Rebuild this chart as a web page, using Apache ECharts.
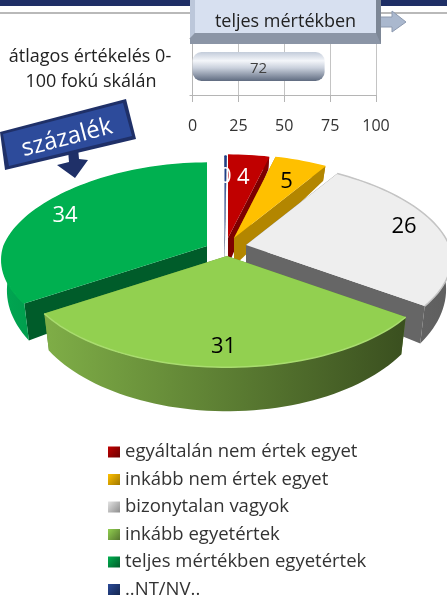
<!DOCTYPE html>
<html>
<head>
<meta charset="utf-8">
<style>
  html, body { margin: 0; padding: 0; background: #fff; }
  #chart { width: 447px; height: 600px; }
</style>
</head>
<body>
<div id="chart"></div>
<script src="https://cdn.jsdelivr.net/npm/echarts@6/dist/echarts.min.js"></script>
<script>
// adatok
var categories = ["egyáltalán nem értek egyet", "inkább nem értek egyet", "bizonytalan vagyok", "inkább egyetértek", "teljes mértékben egyetértek", "..NT/NV.."];
var pieValues = [4, 5, 26, 30.6, 34.4, 0.2];
var pieLabels = ["4", "5", "26", "31", "34", "0"];
var barCategories = ["átlagos értékelés 0-100 fokú skálán"];
var barValues = [72];
var barTicks = [0, 25, 50, 75, 100];

// szeletek kinezete
var topColors = ["#c00000", "#ffc000", "#eeeeee", "#92d050", "#00b050", "#1f3f87"];
var edgeColors = ["#7d0000", "#b38600", "#666666", "#5f8a35", "#005c2a", "#12285a"];
var wallFrom = ["#8a0000", "#b38600", "#6e6e6e", "#7fae47", "#00a651", "#12285a"];
var wallTo = ["#8a0000", "#b38600", "#5e5e5e", "#3a4f1f", "#006a35", "#12285a"];
var rimColors = ["#c00000", "#ffc000", "#c4c4c4", "#a9dc6f", "#00b050", "#1f3f87"];
var labelColors = ["#fff", "#000", "#000", "#000", "#fff", "#fff"];
var legendFrom = ["#c00000", "#ffc000", "#e4e4e4", "#92d050", "#00b050", "#2a4a98"];
var legendTo = ["#6d0000", "#a07800", "#8c8c8c", "#55752f", "#005c2a", "#14264f"];
// a szetcsusztatott szeletek csucsa es a felirat eltolasa
var apexes = [[228, 238], [234, 238], [246, 245], [227, 256], [207, 246], [224.5, 239]];
var labelShift = [[-2, 7], [-3, 7], [3, -4], [0, 5], [-9, 4], [0, 6]];
var paintOrder = [0, 5, 1, 4, 2, 3];

var FONT = '"Open Sans", sans-serif';
var total = 100; // az NT/NV szelet 360 fok utan kovetkezik
var starts = [];
pieValues.reduce(function (sum, v, i) { starts[i] = sum; return sum + v; }, 0);

// kor pontja -> kep pontja (dontott, perspektivikus nezet)
function project(i, deg, r) {
  var a = deg * Math.PI / 180;
  var s = Math.sin(a), u = -Math.cos(a) * r;
  var g = u < 0 ? 1 + 0.19 * u : 1 + 0.15 * u;
  return [
    apexes[i][0] + 203 * r * s * g,
    apexes[i][1] + 95 * u / (1 - 0.146 * u)
  ];
}
function drop(i, p, deg) {
  var u = -Math.cos(deg * Math.PI / 180);
  return [apexes[i][0] + (p[0] - apexes[i][0]) * 0.975, p[1] + 28 + 16 * u];
}
function sliceRender(i) {
  return function (params, api) {
    var from = starts[i] / total * 360;
    var to = from + api.value(0) / total * 360;
    var arc = [], arcLow = [];
    var steps = Math.max(2, Math.ceil((to - from) / 2));
    for (var k = 0; k <= steps; k++) {
      var deg = from + (to - from) * k / steps;
      var p = project(i, deg, 1);
      arc.push(p);
      arcLow.push(drop(i, p, deg));
    }
    var apex = apexes[i];
    var apexLow = [apex[0], apex[1] + 28];
    var wallFill = new echarts.graphic.LinearGradient(0, 0, 1, 0, [
      { offset: 0, color: wallFrom[i] },
      { offset: 1, color: wallTo[i] }
    ]);
    var children = [
      { type: "polygon", shape: { points: [apex, arc[0], arcLow[0], apexLow] }, style: { fill: edgeColors[i] } },
      { type: "polygon", shape: { points: [apex, arc[steps], arcLow[steps], apexLow] }, style: { fill: edgeColors[i] } },
      { type: "polygon", shape: { points: arc.concat(arcLow.slice().reverse()) }, style: { fill: wallFill } },
      { type: "polygon", shape: { points: [apex].concat(arc) }, style: { fill: topColors[i] } },
      { type: "polyline", shape: { points: arc }, style: { fill: null, stroke: rimColors[i], lineWidth: 1.5 } }
    ];
    var mid = project(i, (from + to) / 2, 0.8);
    children.push({
      type: "text",
      style: {
        x: mid[0] + labelShift[i][0],
        y: mid[1] + labelShift[i][1],
        text: pieLabels[i],
        fill: labelColors[i],
        font: "22px " + FONT,
        align: "center",
        verticalAlign: "middle"
      }
    });
    return { type: "group", children: children };
  };
}

var series = paintOrder.map(function (i, order) {
  return {
    type: "custom",
    name: categories[i],
    coordinateSystem: "none",
    z: 5 + order,
    silent: true,
    data: [[pieValues[i]]],
    renderItem: sliceRender(i)
  };
});
series.push({
  type: "bar",
  name: "átlag",
  data: barValues,
  barWidth: 29,
  silent: true,
  itemStyle: {
    borderRadius: 9,
    color: new echarts.graphic.LinearGradient(0, 0, 0, 1, [
      { offset: 0, color: "#c3ccda" },
      { offset: 0.3, color: "#f4f6fa" },
      { offset: 0.55, color: "#c9d0dc" },
      { offset: 1, color: "#5f6b80" }
    ])
  },
  label: {
    show: true,
    position: "inside",
    offset: [0, 2],
    color: "#404040",
    fontFamily: FONT,
    fontSize: 15
  }
});

var legendData = categories.map(function (name, i) {
  return {
    name: name,
    icon: "rect",
    itemStyle: {
      color: new echarts.graphic.LinearGradient(0, 0, 1, 1, [
        { offset: 0, color: legendFrom[i] },
        { offset: 1, color: legendTo[i] }
      ])
    }
  };
});

var myChart = echarts.init(document.getElementById("chart"));
myChart.setOption({
  animation: false,
  backgroundColor: "#fff",
  grid: { left: 192.5, right: 71, top: 38, height: 57 },
  xAxis: {
    type: "value",
    min: 0,
    max: 100,
    interval: 12.5,
    axisLine: { show: true, lineStyle: { color: "#b5b5b5" } },
    axisTick: { show: true, customValues: barTicks, length: 7, lineStyle: { color: "#b5b5b5" } },
    axisLabel: { customValues: barTicks, margin: 23, color: "#333", fontFamily: FONT, fontSize: 16 },
    splitLine: { show: true, lineStyle: { color: "#c4c4c4" } }
  },
  yAxis: {
    type: "category",
    data: barCategories,
    axisLine: { show: true, lineStyle: { color: "#b5b5b5" } },
    axisTick: { show: true, length: 3, lineStyle: { color: "#b5b5b5" } },
    axisLabel: { show: false }
  },
  legend: {
    orient: "vertical",
    left: 108,
    top: 441,
    height: 170,
    padding: 0,
    itemWidth: 12,
    itemHeight: 11,
    itemGap: 5.5,
    selectedMode: false,
    data: legendData,
    textStyle: { color: "#333", fontFamily: FONT, fontSize: 18.5, lineHeight: 22 }
  },
  series: series,
  graphic: [
    // fejlec csik
    { type: "rect", z: 1, shape: { x: 0, y: 0, width: 447, height: 6 }, style: { fill: "#1f2f66" } },
    { type: "rect", z: 1, shape: { x: 0, y: 12, width: 447, height: 2 }, style: { fill: "#b9b9b9" } },
    // nyil a gomb mellett
    { type: "polygon", z: 30, shape: { points: [[376, 17], [392, 17], [392, 11], [406, 22], [392, 32], [392, 27], [376, 27]] }, style: { fill: "#aab8ce", stroke: "#8d9ab0", lineWidth: 1 } },
    // gomb
    { type: "polygon", z: 31, shape: { points: [[190, 0], [381, 0], [381, 44], [190, 44]] }, style: { fill: "#7d8796" } },
    { type: "polygon", z: 31, shape: { points: [[190, 0], [195, 0], [195, 33], [190, 40]] }, style: { fill: "#bcc7da" } },
    { type: "polygon", z: 31, shape: { points: [[190, 38], [195, 33], [376, 33], [381, 44], [190, 44]] }, style: { fill: "#8b95a6" } },
    { type: "rect", z: 32, shape: { x: 195, y: 0, width: 181, height: 33 }, style: { fill: "#d7e0f0" } },
    { type: "text", z: 33, x: 285.5, y: 22, style: { text: "teljes mértékben", fill: "#222", font: "18px " + FONT, align: "center", verticalAlign: "middle" } },
    // bal oldali felirat
    { type: "text", z: 30, x: 90, y: 57, style: { text: "átlagos értékelés 0-", fill: "#222", font: "18px " + FONT, align: "center", verticalAlign: "middle" } },
    { type: "text", z: 30, x: 91, y: 82, style: { text: "100 fokú skálán", fill: "#222", font: "18px " + FONT, align: "center", verticalAlign: "middle" } },
    // szazalek szalag
    { type: "polygon", z: 30, shape: { points: [[68, 150], [78, 148], [79, 159], [88, 160], [75, 178], [57, 165], [69, 162]] }, style: { fill: "#1f3068" } },
    { type: "polygon", z: 31, shape: { points: [[0, 132], [126, 99], [136, 139], [5, 170]] }, style: { fill: "#1f3068" } },
    { type: "polygon", z: 32, shape: { points: [[3, 134], [123, 103], [132, 136], [9, 166]] }, style: { fill: "#2d4b9b" } },
    { type: "text", z: 33, x: 67, y: 138, rotation: 0.256, style: { text: "százalék", fill: "#fff", font: "24px " + FONT, align: "center", verticalAlign: "middle" } }
  ]
});
</script>
</body>
</html>
